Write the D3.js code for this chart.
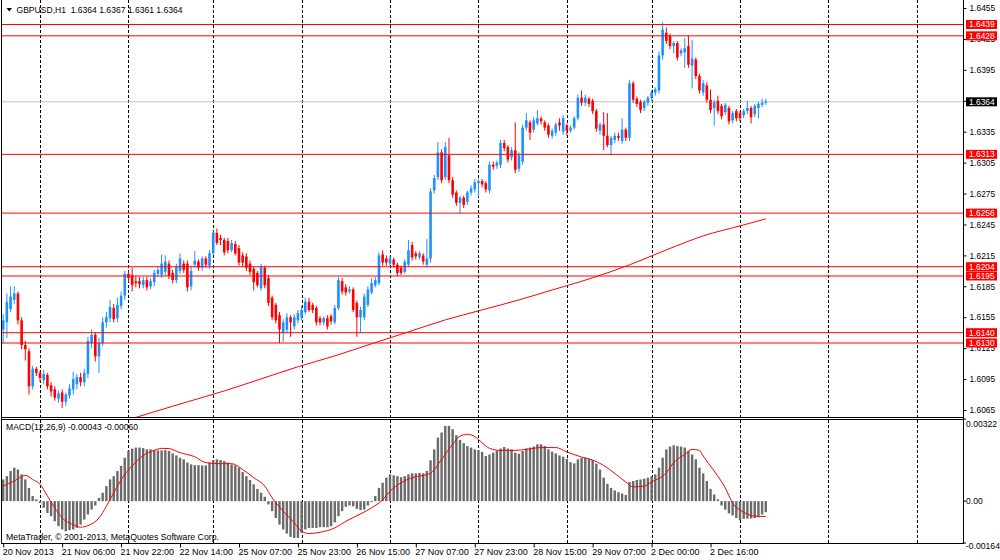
<!DOCTYPE html>
<html lang="en">
<head>
<meta charset="utf-8">
<title>GBPUSD,H1</title>
<script src="https://cdn.jsdelivr.net/npm/d3@7"></script>
<style>
	body { margin: 0; background: #fff; }
	text {
		font-family: "Liberation Sans", Arial, sans-serif;
		font-size: 9px;
		fill: #000;
	}
	.axis path { display: none; }
	.axis line { stroke: #000; }
	.price text, .tag { font-size: 8.4px; }
</style>
</head>
<body>
<script>
// H1 bars, 20 Nov 2013 14:00 .. 3 Dec 2013 07:00 (bar index 0..207)
var opens = [1.6143,1.6150,1.6163,1.6172,1.6178,1.6152,1.6128,1.6122,1.6088,1.6105,
	1.6101,1.6094,1.6099,1.6089,1.6085,1.6076,1.6082,1.6073,1.6079,1.6085,
	1.6090,1.6097,1.6092,1.6100,1.6130,1.6138,1.6117,1.6130,1.6150,1.6154,
	1.6164,1.6154,1.6166,1.6176,1.6197,1.6196,1.6190,1.6190,1.6186,1.6191,
	1.6185,1.6189,1.6197,1.6196,1.6199,1.6207,1.6198,1.6191,1.6200,1.6207,
	1.6207,1.6185,1.6206,1.6209,1.6203,1.6212,1.6205,1.6217,1.6237,1.6232,
	1.6230,1.6229,1.6220,1.6226,1.6222,1.6215,1.6214,1.6207,1.6202,1.6198,
	1.6183,1.6203,1.6193,1.6174,1.6167,1.6157,1.6140,1.6143,1.6155,1.6146,
	1.6152,1.6155,1.6160,1.6170,1.6167,1.6164,1.6154,1.6150,1.6154,1.6156,
	1.6150,1.6164,1.6190,1.6184,1.6180,1.6182,1.6169,1.6155,1.6155,1.6167,
	1.6179,1.6186,1.6188,1.6216,1.6212,1.6207,1.6211,1.6206,1.6203,1.6199,
	1.6206,1.6225,1.6217,1.6213,1.6215,1.6206,1.6212,1.6278,1.6291,1.6315,
	1.6291,1.6312,1.6288,1.6276,1.6266,1.6271,1.6267,1.6276,1.6279,1.6285,
	1.6287,1.6285,1.6278,1.6303,1.6302,1.6303,1.6324,1.6320,1.6310,1.6317,
	1.6299,1.6306,1.6339,1.6344,1.6337,1.6343,1.6348,1.6344,1.6341,1.6331,
	1.6334,1.6344,1.6335,1.6341,1.6336,1.6339,1.6348,1.6368,1.6363,1.6367,
	1.6365,1.6355,1.6336,1.6342,1.6331,1.6322,1.6327,1.6331,1.6326,1.6337,
	1.6329,1.6382,1.6367,1.6364,1.6358,1.6363,1.6368,1.6373,1.6375,1.6409,
	1.6431,1.6428,1.6418,1.6421,1.6411,1.6412,1.6418,1.6399,1.6405,1.6389,
	1.6373,1.6380,1.6366,1.6358,1.6365,1.6360,1.6354,1.6358,1.6346,1.6355,
	1.6353,1.6351,1.6355,1.6358,1.6352,1.6358,1.6361,1.6364];
var highs = [1.6158,1.6178,1.6185,1.6185,1.6180,1.6155,1.6132,1.6125,1.6108,1.6107,
	1.6103,1.6104,1.6101,1.6092,1.6088,1.6084,1.6085,1.6082,1.6090,1.6102,
	1.6100,1.6101,1.6105,1.6136,1.6143,1.6140,1.6135,1.6155,1.6160,1.6172,
	1.6168,1.6174,1.6180,1.6200,1.6200,1.6203,1.6195,1.6194,1.6194,1.6194,
	1.6193,1.6201,1.6204,1.6216,1.6215,1.6210,1.6201,1.6207,1.6217,1.6210,
	1.6210,1.6205,1.6219,1.6211,1.6214,1.6214,1.6220,1.6240,1.6241,1.6235,
	1.6232,1.6232,1.6230,1.6229,1.6225,1.6218,1.6217,1.6210,1.6204,1.6200,
	1.6207,1.6205,1.6196,1.6176,1.6169,1.6160,1.6153,1.6159,1.6157,1.6158,
	1.6162,1.6166,1.6174,1.6174,1.6169,1.6166,1.6156,1.6156,1.6157,1.6158,
	1.6167,1.6194,1.6193,1.6187,1.6185,1.6184,1.6171,1.6165,1.6178,1.6185,
	1.6193,1.6194,1.6218,1.6220,1.6215,1.6215,1.6213,1.6208,1.6205,1.6211,
	1.6230,1.6228,1.6219,1.6219,1.6217,1.6231,1.6280,1.6293,1.6325,1.6318,
	1.6325,1.6329,1.6291,1.6278,1.6273,1.6273,1.6278,1.6283,1.6289,1.6289,
	1.6289,1.6287,1.6306,1.6306,1.6307,1.6327,1.6327,1.6322,1.6320,1.6344,
	1.6315,1.6342,1.6353,1.6346,1.6349,1.6356,1.6350,1.6346,1.6343,1.6338,
	1.6344,1.6348,1.6351,1.6343,1.6341,1.6350,1.6371,1.6375,1.6371,1.6369,
	1.6367,1.6357,1.6344,1.6354,1.6353,1.6331,1.6334,1.6334,1.6348,1.6339,
	1.6385,1.6384,1.6369,1.6366,1.6366,1.6370,1.6375,1.6378,1.6413,1.6441,
	1.6436,1.6430,1.6423,1.6423,1.6416,1.6426,1.6428,1.6424,1.6407,1.6391,
	1.6385,1.6383,1.6376,1.6366,1.6370,1.6362,1.6363,1.6360,1.6355,1.6357,
	1.6355,1.6357,1.6365,1.6360,1.6362,1.6364,1.6367,1.6367];
var lows = [1.6130,1.6135,1.6160,1.6168,1.6148,1.6124,1.6113,1.6080,1.6085,1.6098,
	1.6092,1.6090,1.6085,1.6078,1.6074,1.6072,1.6067,1.6069,1.6076,1.6080,
	1.6085,1.6088,1.6088,1.6096,1.6125,1.6112,1.6101,1.6127,1.6145,1.6150,
	1.6150,1.6150,1.6163,1.6172,1.6189,1.6180,1.6184,1.6183,1.6183,1.6181,
	1.6182,1.6185,1.6194,1.6193,1.6195,1.6192,1.6188,1.6188,1.6197,1.6198,
	1.6180,1.6181,1.6203,1.6200,1.6200,1.6203,1.6202,1.6215,1.6225,1.6225,
	1.6215,1.6217,1.6218,1.6215,1.6205,1.6204,1.6200,1.6196,1.6181,1.6184,
	1.6181,1.6183,1.6166,1.6152,1.6149,1.6130,1.6131,1.6140,1.6136,1.6143,
	1.6149,1.6152,1.6158,1.6160,1.6159,1.6147,1.6147,1.6147,1.6143,1.6148,
	1.6148,1.6162,1.6177,1.6176,1.6178,1.6160,1.6136,1.6140,1.6152,1.6165,
	1.6177,1.6184,1.6186,1.6205,1.6205,1.6205,1.6203,1.6195,1.6196,1.6197,
	1.6204,1.6210,1.6211,1.6211,1.6206,1.6203,1.6208,1.6275,1.6288,1.6285,
	1.6288,1.6285,1.6271,1.6263,1.6256,1.6261,1.6264,1.6273,1.6276,1.6272,
	1.6281,1.6276,1.6275,1.6298,1.6299,1.6300,1.6316,1.6305,1.6307,1.6295,
	1.6296,1.6303,1.6336,1.6327,1.6334,1.6341,1.6342,1.6336,1.6329,1.6328,
	1.6331,1.6336,1.6332,1.6331,1.6334,1.6337,1.6346,1.6360,1.6360,1.6359,
	1.6352,1.6335,1.6332,1.6317,1.6320,1.6312,1.6324,1.6326,1.6323,1.6326,
	1.6326,1.6363,1.6359,1.6353,1.6355,1.6360,1.6365,1.6370,1.6372,1.6405,
	1.6420,1.6415,1.6411,1.6404,1.6408,1.6397,1.6397,1.6377,1.6386,1.6372,
	1.6370,1.6363,1.6353,1.6341,1.6352,1.6347,1.6351,1.6342,1.6343,1.6345,
	1.6345,1.6348,1.6352,1.6343,1.6349,1.6348,1.6359,1.6361];
var closes = [1.6152,1.6170,1.6175,1.6178,1.6152,1.6128,1.6124,1.6088,1.6105,1.6101,
	1.6096,1.6100,1.6088,1.6083,1.6077,1.6081,1.6073,1.6080,1.6086,1.6095,
	1.6097,1.6092,1.6101,1.6132,1.6138,1.6117,1.6130,1.6150,1.6155,1.6165,
	1.6153,1.6167,1.6176,1.6197,1.6193,1.6186,1.6188,1.6187,1.6191,1.6184,
	1.6190,1.6198,1.6201,1.6207,1.6209,1.6195,1.6191,1.6204,1.6212,1.6201,
	1.6184,1.6200,1.6210,1.6203,1.6212,1.6206,1.6217,1.6237,1.6227,1.6230,
	1.6218,1.6220,1.6227,1.6217,1.6208,1.6208,1.6203,1.6199,1.6189,1.6186,
	1.6204,1.6186,1.6169,1.6155,1.6152,1.6143,1.6150,1.6155,1.6150,1.6155,
	1.6159,1.6162,1.6170,1.6162,1.6162,1.6150,1.6150,1.6154,1.6146,1.6151,
	1.6164,1.6191,1.6180,1.6179,1.6182,1.6162,1.6155,1.6162,1.6175,1.6182,
	1.6188,1.6191,1.6215,1.6208,1.6208,1.6212,1.6206,1.6198,1.6198,1.6209,
	1.6220,1.6213,1.6214,1.6217,1.6209,1.6212,1.6277,1.6290,1.6315,1.6288,
	1.6320,1.6288,1.6274,1.6266,1.6271,1.6264,1.6276,1.6280,1.6286,1.6287,
	1.6284,1.6279,1.6303,1.6301,1.6305,1.6324,1.6319,1.6308,1.6317,1.6298,
	1.6312,1.6339,1.6346,1.6334,1.6346,1.6348,1.6345,1.6339,1.6332,1.6336,
	1.6342,1.6341,1.6348,1.6336,1.6339,1.6348,1.6368,1.6363,1.6368,1.6362,
	1.6355,1.6338,1.6342,1.6331,1.6322,1.6329,1.6331,1.6329,1.6337,1.6329,
	1.6382,1.6366,1.6362,1.6356,1.6364,1.6368,1.6373,1.6376,1.6409,1.6434,
	1.6423,1.6418,1.6421,1.6407,1.6414,1.6416,1.6400,1.6406,1.6389,1.6375,
	1.6382,1.6366,1.6356,1.6364,1.6355,1.6350,1.6361,1.6345,1.6353,1.6348,
	1.6348,1.6355,1.6358,1.6349,1.6360,1.6362,1.6363,1.6364];

// moving average, read every 10 bars
var maIdx = [36, 40, 50, 60, 70, 80, 90, 100, 110, 120, 130, 140, 150, 160, 170, 180, 190, 200, 207];
var maVals = [1.60578, 1.60622, 1.60729, 1.60835, 1.60952, 1.61069, 1.61175, 1.61292, 1.61408, 1.61524,
	1.61621, 1.61718, 1.61825, 1.61932, 1.62058, 1.62203, 1.62339, 1.62436, 1.62504];

// MACD(12,26,9) main values, one per bar
var macdVals = [0.00085,0.00098,0.00118,0.00131,0.00124,0.00105,0.00085,0.00052,0.00020,0.00007,
	-0.00007,-0.00026,-0.00046,-0.00059,-0.00079,-0.00098,-0.00111,-0.00118,-0.00114,-0.00111,
	-0.00105,-0.00092,-0.00072,-0.00052,-0.00033,-0.00017,0.00013,0.00033,0.00059,0.00085,
	0.00098,0.00118,0.00138,0.00170,0.00197,0.00206,0.00210,0.00210,0.00208,0.00203,
	0.00203,0.00200,0.00199,0.00199,0.00200,0.00197,0.00187,0.00179,0.00170,0.00164,
	0.00151,0.00144,0.00141,0.00141,0.00140,0.00140,0.00151,0.00161,0.00164,0.00161,
	0.00157,0.00151,0.00144,0.00140,0.00131,0.00114,0.00098,0.00083,0.00066,0.00048,
	0.00033,0.00017,-0.00013,-0.00039,-0.00066,-0.00092,-0.00111,-0.00127,-0.00140,-0.00144,
	-0.00144,-0.00124,-0.00111,-0.00105,-0.00105,-0.00105,-0.00102,-0.00102,-0.00102,-0.00098,
	-0.00083,-0.00059,-0.00039,-0.00022,-0.00017,-0.00020,-0.00030,-0.00035,-0.00033,-0.00017,
	-0.00004,0.00020,0.00052,0.00072,0.00092,0.00105,0.00101,0.00098,0.00094,0.00098,
	0.00105,0.00109,0.00109,0.00111,0.00109,0.00118,0.00160,0.00203,0.00249,0.00269,
	0.00295,0.00295,0.00282,0.00258,0.00240,0.00227,0.00216,0.00210,0.00203,0.00200,
	0.00193,0.00177,0.00183,0.00190,0.00197,0.00206,0.00212,0.00206,0.00203,0.00190,
	0.00186,0.00197,0.00207,0.00210,0.00214,0.00223,0.00223,0.00216,0.00203,0.00194,
	0.00187,0.00179,0.00174,0.00166,0.00153,0.00148,0.00164,0.00170,0.00170,0.00166,
	0.00161,0.00147,0.00124,0.00092,0.00068,0.00052,0.00042,0.00035,0.00030,0.00024,
	0.00075,0.00079,0.00083,0.00085,0.00088,0.00092,0.00098,0.00105,0.00131,0.00170,
	0.00203,0.00214,0.00219,0.00216,0.00214,0.00210,0.00197,0.00183,0.00164,0.00131,
	0.00109,0.00079,0.00048,0.00026,0.00007,-0.00017,-0.00033,-0.00048,-0.00056,-0.00066,
	-0.00075,-0.00069,-0.00068,-0.00068,-0.00066,-0.00063,-0.00052,-0.00043];

// signal line, read at turning points
var sigIdx = [0, 3, 6, 8, 10, 12, 14, 16, 19, 21, 23, 26, 28, 30, 33, 35, 38, 41, 43, 45,
	48, 52, 55, 59, 62, 65, 68, 71, 73, 76, 79, 81, 83, 86, 90, 93, 97, 100, 103, 105,
	108, 111, 114, 116, 119, 122, 124, 126, 128, 130, 132, 135, 139, 142, 146, 150, 153, 157, 160, 163,
	166, 169, 171, 174, 176, 180, 182, 185, 187, 189, 190, 193, 196, 198, 201, 204, 207];
var sigVals = [0.00059, 0.00079, 0.00101, 0.00085, 0.00066, 0.00020, -0.00026, -0.00066, -0.00092, -0.00102,
	-0.00096, -0.00066, -0.00020, 0.00033, 0.00105, 0.00138, 0.00179, 0.00199, 0.00207, 0.00206,
	0.00190, 0.00174, 0.00151, 0.00147, 0.00147, 0.00124, 0.00092, 0.00059, 0.00013, -0.00039,
	-0.00085, -0.00118, -0.00127, -0.00122, -0.00105, -0.00079, -0.00050, -0.00026, 0.00005, 0.00039,
	0.00072, 0.00092, 0.00101, 0.00109, 0.00164, 0.00223, 0.00255, 0.00262, 0.00253, 0.00229,
	0.00207, 0.00199, 0.00199, 0.00203, 0.00210, 0.00210, 0.00193, 0.00173, 0.00161, 0.00140,
	0.00109, 0.00075, 0.00056, 0.00059, 0.00075, 0.00111, 0.00151, 0.00183, 0.00203, 0.00199,
	0.00177, 0.00118, 0.00052, -0.00007, -0.00043, -0.00059, -0.00060];

var levels = [1.6439, 1.6428, 1.6313, 1.6256, 1.6204, 1.6195, 1.6140, 1.6130];
var bid = 1.6364;
var priceTicks = [1.6455, 1.6425, 1.6395, 1.6365, 1.6335, 1.6305, 1.6275, 1.6245, 1.6215, 1.6185, 1.6155, 1.6125, 1.6095, 1.6065];
var macdTicks = [0.00322, 0.00, -0.00164];
var macdTickText = ["0.00322", "0.00", "-0.00164"];

// day boundaries (bar index of 00:00) and time scale labels
var dayStarts = [10, 34, 57, 81, 105, 129, 153, 176, 200, 224, 248];
var labelIdx = [0, 16, 32, 48, 64, 80, 96, 112, 128, 144, 160, 176, 192];
var timeLabels = ["20 Nov 2013", "21 Nov 06:00", "21 Nov 22:00", "22 Nov 14:00", "25 Nov 07:00",
	"25 Nov 23:00", "26 Nov 15:00", "27 Nov 07:00", "27 Nov 23:00", "28 Nov 15:00",
	"29 Nov 07:00", "2 Dec 00:00", "2 Dec 16:00"];

var w = 1000;
var h = 560;
var right = 963;
var mainBottom = 417;
var macdTop = 419;
var macdBottom = 543;
var bull = "#1e90ff";
var bear = "#ff0000";

var svg = d3.select("body")
	.append("svg")
	.attr("width", w)
	.attr("height", h);

var xScale = d3.scaleLinear().domain([0, 200]).range([3.2, 740]);
var yScale = d3.scaleLinear().domain([1.6065, 1.6455]).range([410, 8]);
var mScale = d3.scaleLinear().domain([-0.00164, 0.00322]).range([macdBottom, macdTop]);

var defs = svg.append("defs");
defs.append("clipPath").attr("id", "clipMain")
	.append("rect").attr("x", 2).attr("y", 0).attr("width", right - 2).attr("height", mainBottom);
defs.append("clipPath").attr("id", "clipMacd")
	.append("rect").attr("x", 2).attr("y", macdTop).attr("width", right - 2).attr("height", macdBottom - macdTop);

var bars = d3.range(closes.length);

// dashed day separators
svg.append("g")
	.selectAll("line")
	.data(dayStarts)
	.enter()
	.append("line")
	.attr("x1", function(d) { return Math.round(xScale(d)) + 0.5; })
	.attr("x2", function(d) { return Math.round(xScale(d)) + 0.5; })
	.attr("y1", 0)
	.attr("y2", macdBottom)
	.attr("stroke", "#000")
	.attr("stroke-dasharray", "3,2");

var main = svg.append("g").attr("clip-path", "url(#clipMain)");

// bid line
main.append("line")
	.attr("x1", 0).attr("x2", right)
	.attr("y1", yScale(bid)).attr("y2", yScale(bid))
	.attr("stroke", "#c0c0c0");

// moving average
main.append("path")
	.datum(d3.zip(maIdx, maVals))
	.attr("fill", "none")
	.attr("stroke", "#ff0000")
	.attr("stroke-width", 1)
	.attr("d", d3.line()
		.x(function(d) { return xScale(d[0]); })
		.y(function(d) { return yScale(d[1]); })
		.curve(d3.curveMonotoneX));

// candles
main.append("g")
	.selectAll("line")
	.data(bars)
	.enter()
	.append("line")
	.attr("x1", function(i) { return xScale(i); })
	.attr("x2", function(i) { return xScale(i); })
	.attr("y1", function(i) { return yScale(highs[i]); })
	.attr("y2", function(i) { return yScale(lows[i]); })
	.attr("stroke", function(i) { return closes[i] >= opens[i] ? bull : bear; })
	.attr("stroke-width", 1);

main.append("g")
	.selectAll("rect")
	.data(bars)
	.enter()
	.append("rect")
	.attr("x", function(i) { return xScale(i) - 1.3; })
	.attr("width", 2.6)
	.attr("y", function(i) { return yScale(Math.max(opens[i], closes[i])); })
	.attr("height", function(i) {
		return Math.max(1, Math.abs(yScale(opens[i]) - yScale(closes[i])));
	})
	.attr("fill", function(i) { return closes[i] >= opens[i] ? bull : bear; });

// horizontal levels
main.append("g")
	.selectAll("line")
	.data(levels)
	.enter()
	.append("line")
	.attr("x1", 0).attr("x2", right)
	.attr("y1", function(d) { return yScale(d); })
	.attr("y2", function(d) { return yScale(d); })
	.attr("stroke", "#ff0000");

// MACD pane
var macd = svg.append("g").attr("clip-path", "url(#clipMacd)");

macd.append("g")
	.selectAll("rect")
	.data(macdVals)
	.enter()
	.append("rect")
	.attr("x", function(d, i) { return xScale(i) - 1.2; })
	.attr("width", 2.4)
	.attr("y", function(d) { return mScale(Math.max(0, d)); })
	.attr("height", function(d) { return Math.abs(mScale(d) - mScale(0)); })
	.attr("fill", "#6a6a6a");

macd.append("path")
	.datum(d3.zip(sigIdx, sigVals))
	.attr("fill", "none")
	.attr("stroke", "#ff0000")
	.attr("stroke-width", 1)
	.attr("d", d3.line()
		.x(function(d) { return xScale(d[0]); })
		.y(function(d) { return mScale(d[1]); })
		.curve(d3.curveMonotoneX));

// frames
var frame = svg.append("g").attr("stroke", "#000").attr("fill", "none");
frame.append("line").attr("x1", 1.5).attr("x2", 1.5).attr("y1", 0).attr("y2", macdBottom);
frame.append("line").attr("x1", right + 0.5).attr("x2", right + 0.5).attr("y1", 0).attr("y2", macdBottom + 1);
frame.append("line").attr("x1", 1).attr("x2", right).attr("y1", mainBottom + 0.5).attr("y2", mainBottom + 0.5);
frame.append("line").attr("x1", 1).attr("x2", right).attr("y1", macdTop + 0.5).attr("y2", macdTop + 0.5);
frame.append("line").attr("x1", 1).attr("x2", right + 1).attr("y1", macdBottom + 0.5).attr("y2", macdBottom + 0.5);

// price scale
svg.append("g")
	.attr("class", "axis price")
	.attr("transform", "translate(" + (right + 0.5) + ",0)")
	.call(d3.axisRight(yScale)
		.tickValues(priceTicks)
		.tickSize(3)
		.tickPadding(3)
		.tickFormat(d3.format(".4f")));

var tags = svg.append("g");
tags.selectAll("rect")
	.data(levels.concat([bid]))
	.enter()
	.append("rect")
	.attr("x", right + 3)
	.attr("width", 31)
	.attr("y", function(d) { return yScale(d) - 4.5; })
	.attr("height", 9)
	.attr("fill", function(d) { return d === bid ? "#000" : "#ff0000"; });
tags.selectAll("text")
	.data(levels.concat([bid]))
	.enter()
	.append("text")
	.attr("class", "tag")
	.attr("x", right + 6)
	.attr("y", function(d) { return yScale(d); })
	.attr("dy", "0.34em")
	.style("fill", "#fff")
	.text(d3.format(".4f"));

// MACD scale
var mAxis = svg.append("g");
mAxis.selectAll("line")
	.data(macdTicks)
	.enter()
	.append("line")
	.attr("x1", right).attr("x2", right + 3)
	.attr("y1", function(d) { return mScale(d); })
	.attr("y2", function(d) { return mScale(d); })
	.attr("stroke", "#000");
mAxis.selectAll("text")
	.data(macdTicks)
	.enter()
	.append("text")
	.attr("x", right + 3)
	.attr("y", function(d, i) { return mScale(d) + [5.5, 0, 3.5][i]; })
	.attr("dy", "0.34em")
	.style("font-size", "8.6px")
	.text(function(d, i) { return macdTickText[i]; });

// time scale
svg.append("g")
	.attr("class", "axis")
	.attr("transform", "translate(0," + (macdBottom + 0.5) + ")")
	.call(d3.axisBottom(xScale)
		.tickValues(labelIdx)
		.tickSize(4)
		.tickFormat(function(d, i) { return timeLabels[i]; }))
	.selectAll("text")
	.attr("text-anchor", "start")
	.attr("x", -1)
	.attr("y", 5);

// captions
svg.append("path")
	.attr("d", "M6.5,8 L12,8 L9.25,11.5 Z")
	.attr("fill", "#000");
svg.append("text")
	.attr("x", 16.5).attr("y", 12.8)
	.attr("textLength", 166)
	.attr("lengthAdjust", "spacingAndGlyphs")
	.style("white-space", "pre")
	.text("GBPUSD,H1  1.6364 1.6367 1.6361 1.6364");
svg.append("text")
	.attr("x", 6).attr("y", 429.5)
	.attr("textLength", 132)
	.attr("lengthAdjust", "spacingAndGlyphs")
	.text("MACD(12,26,9) -0.00043 -0.00060");
svg.append("text")
	.attr("x", 6).attr("y", 539.5)
	.attr("textLength", 213)
	.attr("lengthAdjust", "spacingAndGlyphs")
	.text("MetaTrader, \u00a9 2001-2013, MetaQuotes Software Corp.");
</script>
</body>
</html>
